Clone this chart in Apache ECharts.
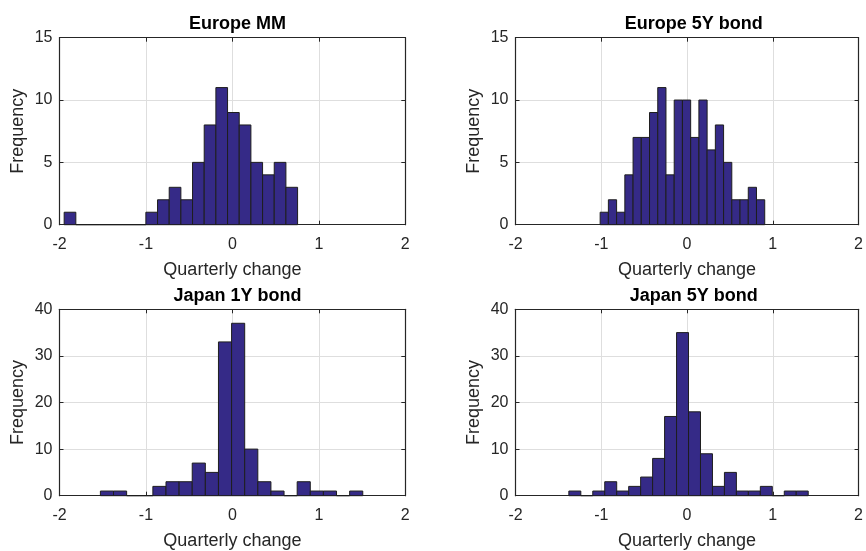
<!DOCTYPE html>
<html>
<head>
<meta charset="utf-8">
<script src="https://cdn.jsdelivr.net/npm/echarts@6/dist/echarts.min.js"></script>
<style>
html,body{margin:0;padding:0;background:#fff;}
#chart{width:866px;height:551px;}
</style>
</head>
<body>
<div id="chart"></div>
<script>
// ---- Data ----
const titles = ["Europe MM", "Europe 5Y bond", "Japan 1Y bond", "Japan 5Y bond"];

// histogram bin ranges [first edge, last edge] and counts (20 bins each)
const europeMMRange = [-1.946, 0.754];
const europeMMCounts = [1, 0, 0, 0, 0, 0, 0, 1, 2, 3, 2, 5, 8, 11, 9, 8, 5, 4, 5, 3];

const europe5YRange = [-1.013, 0.906];
const europe5YCounts = [1, 2, 1, 4, 7, 7, 9, 11, 4, 10, 10, 7, 10, 6, 8, 5, 2, 2, 3, 2];

const japan1YRange = [-1.527, 1.508];
const japan1YCounts = [1, 1, 0, 0, 2, 3, 3, 7, 5, 33, 37, 10, 3, 1, 0, 3, 1, 1, 0, 1];

const japan5YRange = [-1.378, 1.413];
const japan5YCounts = [1, 0, 1, 3, 1, 2, 4, 8, 17, 35, 18, 9, 2, 5, 1, 1, 2, 0, 1, 1];

const xTicks = [-2, -1, 0, 1, 2];
const yMaxTop = 15, yIntervalTop = 5;
const yMaxBottom = 40, yIntervalBottom = 10;
const xLabel = "Quarterly change";
const yLabel = "Frequency";

// ---- Build histogram data ----
function histData(range, counts) {
  const n = counts.length;
  const w = (range[1] - range[0]) / n;
  return counts.map((c, i) => [range[0] + i * w, range[0] + (i + 1) * w, c]);
}
const panels = [
  histData(europeMMRange, europeMMCounts),
  histData(europe5YRange, europe5YCounts),
  histData(japan1YRange, japan1YCounts),
  histData(japan5YRange, japan5YCounts)
];

// ---- Layout ----
const grids = [
  {left: 59.5, top: 37.7, width: 345.8, height: 187},
  {left: 515.5, top: 37.7, width: 346.5, height: 187},
  {left: 59.5, top: 309.3, width: 345.8, height: 186.4},
  {left: 515.5, top: 309.3, width: 346.5, height: 186.4}
];
const titleTops = [10, 10, 282, 282];

const axisColor = '#262626';
const gridColor = '#dedede';
const fontFamily = '"Liberation Sans", Arial, Helvetica, sans-serif';

const xAxes = [], yAxes = [], series = [], titleArr = [];
grids.forEach((g, i) => {
  const yMax = i < 2 ? yMaxTop : yMaxBottom;
  const yInt = i < 2 ? yIntervalTop : yIntervalBottom;
  xAxes.push({
    type: 'value', gridIndex: i, position: 'bottom', min: xTicks[0], max: xTicks[xTicks.length - 1], interval: 1,
    name: xLabel, nameLocation: 'middle', nameGap: 36,
    nameTextStyle: {fontSize: 18, color: axisColor, fontFamily},
    axisLine: {show: true, onZero: false, lineStyle: {color: axisColor, width: 1.2}},
    axisTick: {show: true, inside: true, length: 4, lineStyle: {color: axisColor}},
    axisLabel: {fontSize: 16, color: axisColor, fontFamily, margin: 12},
    splitLine: {show: true, lineStyle: {color: gridColor, width: 1}}
  });
  xAxes.push({
    type: 'value', gridIndex: i, position: 'top', min: xTicks[0], max: xTicks[xTicks.length - 1], interval: 1,
    axisLine: {show: true, onZero: false, lineStyle: {color: axisColor, width: 1.2}},
    axisTick: {show: true, inside: true, length: 4, lineStyle: {color: axisColor}},
    axisLabel: {show: false}, splitLine: {show: false}
  });
  yAxes.push({
    type: 'value', gridIndex: i, position: 'left', min: 0, max: yMax, interval: yInt,
    name: yLabel, nameLocation: 'middle', nameGap: 32,
    nameTextStyle: {fontSize: 18, color: axisColor, fontFamily},
    axisLine: {show: true, onZero: false, lineStyle: {color: axisColor, width: 1.2}},
    axisTick: {show: true, inside: true, length: 4, lineStyle: {color: axisColor}},
    axisLabel: {fontSize: 16, color: axisColor, fontFamily, margin: 7},
    splitLine: {show: true, lineStyle: {color: gridColor, width: 1}}
  });
  yAxes.push({
    type: 'value', gridIndex: i, position: 'right', min: 0, max: yMax, interval: yInt,
    axisLine: {show: true, onZero: false, lineStyle: {color: axisColor, width: 1.2}},
    axisTick: {show: true, inside: true, length: 4, lineStyle: {color: axisColor}},
    axisLabel: {show: false}, splitLine: {show: false}
  });
  titleArr.push({
    text: titles[i], left: g.left + g.width / 2, top: titleTops[i], textAlign: 'center',
    textStyle: {fontSize: 18, fontWeight: 'bold', color: '#000', fontFamily}
  });
  series.push({
    type: 'custom', xAxisIndex: 2 * i, yAxisIndex: 2 * i,
    data: panels[i],
    encode: {x: [0, 1], y: 2},
    renderItem: function (params, api) {
      const p0 = api.coord([api.value(0), api.value(2)]);
      const p1 = api.coord([api.value(1), 0]);
      return {
        type: 'rect',
        shape: {x: p0[0], y: p0[1], width: p1[0] - p0[0], height: p1[1] - p0[1]},
        style: {fill: '#352a87', stroke: '#1e1e1e', lineWidth: 1}
      };
    },
    z: 3
  });
});

const chart = echarts.init(document.getElementById('chart'), null, {renderer: 'canvas'});
chart.setOption({
  animation: false,
  backgroundColor: '#fff',
  title: titleArr,
  grid: grids,
  xAxis: xAxes,
  yAxis: yAxes,
  series: series
});
</script>
</body>
</html>
